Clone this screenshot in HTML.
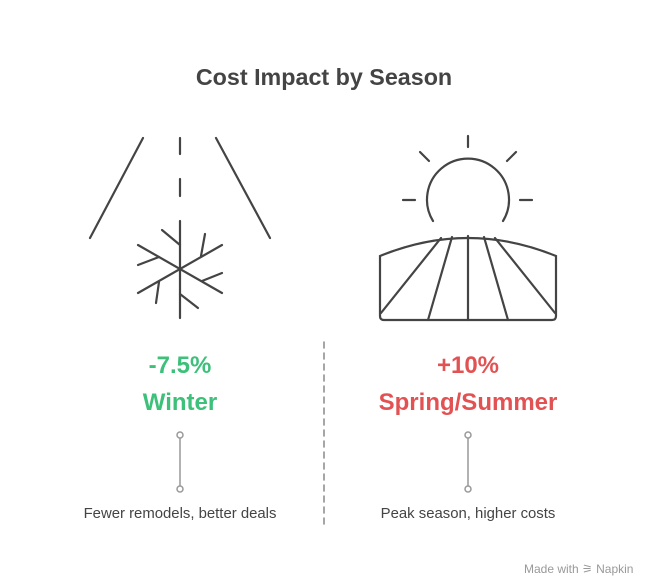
<!DOCTYPE html>
<html><head><style>
body{margin:0;width:648px;height:588px;background:#fff;font-family:"Liberation Sans",sans-serif;position:relative;overflow:hidden}
.t{position:absolute;text-align:center;white-space:nowrap}
</style></head><body>
<svg width="648" height="588" style="position:absolute;left:0;top:0" fill="none" stroke="#444" stroke-width="2.2" stroke-linecap="round">
<line x1="143" y1="138" x2="90" y2="238"/>
<line x1="216" y1="138" x2="270" y2="238"/>
<line x1="180" y1="138" x2="180" y2="154"/>
<line x1="180" y1="179" x2="180" y2="196"/>
<line x1="180" y1="221" x2="180" y2="318"/>
<line x1="138" y1="245" x2="222" y2="293"/>
<line x1="138" y1="293" x2="222" y2="245"/>
<line x1="162" y1="230" x2="180" y2="245"/>
<line x1="180" y1="294" x2="198" y2="308"/>
<line x1="138" y1="265" x2="159" y2="257"/>
<line x1="159" y1="282" x2="156" y2="303"/>
<line x1="205" y1="234" x2="201" y2="256"/>
<line x1="222" y1="273" x2="202" y2="281"/>
<path d="M433 221 A41 41 0 1 1 503 221"/>
<line x1="468" y1="136" x2="468" y2="147"/>
<line x1="420" y1="152" x2="429" y2="161"/>
<line x1="516" y1="152" x2="507" y2="161"/>
<line x1="403" y1="200" x2="415" y2="200"/>
<line x1="520" y1="200" x2="532" y2="200"/>
<path d="M380 256 Q468 220 556 256 L556 316 Q556 320 552 320 L384 320 Q380 320 380 316 Z"/>
<line x1="468" y1="236" x2="468" y2="320"/>
<line x1="452" y1="237" x2="428" y2="320"/>
<line x1="441" y1="238" x2="381" y2="313"/>
<line x1="484" y1="237" x2="508" y2="320"/>
<line x1="495" y1="238" x2="555" y2="313"/>
<line x1="324" y1="342" x2="324" y2="528" stroke="#888" stroke-width="1.5" stroke-dasharray="6 5"/>
<g stroke="#999" stroke-width="1.5"><line x1="180" y1="438" x2="180" y2="486"/><circle cx="180" cy="435" r="3" fill="#fff"/><circle cx="180" cy="489" r="3" fill="#fff"/>
<line x1="468" y1="438" x2="468" y2="486"/><circle cx="468" cy="435" r="3" fill="#fff"/><circle cx="468" cy="489" r="3" fill="#fff"/></g>
</svg>
<div class="t" style="left:0;width:648px;top:64px;font-size:23.3px;font-weight:bold;color:#444">Cost Impact by Season</div>
<div class="t" style="left:80px;width:200px;top:352px;font-size:24px;font-weight:bold;color:#3cc07a">-7.5%</div>
<div class="t" style="left:80px;width:200px;top:389px;font-size:24px;font-weight:bold;color:#3cc07a">Winter</div>
<div class="t" style="left:318px;width:300px;top:352px;font-size:24px;font-weight:bold;color:#e35252">+10%</div>
<div class="t" style="left:318px;width:300px;top:389px;font-size:24px;font-weight:bold;color:#e35252">Spring/Summer</div>
<div class="t" style="left:30px;width:300px;top:506px;font-size:14.9px;color:#444">Fewer remodels, better deals</div>
<div class="t" style="left:318px;width:300px;top:506px;font-size:14.9px;color:#444">Peak season, higher costs</div>
<div class="t" style="left:524px;top:562px;font-size:12px;color:#999">Made with ⚞ Napkin</div>
</body></html>
